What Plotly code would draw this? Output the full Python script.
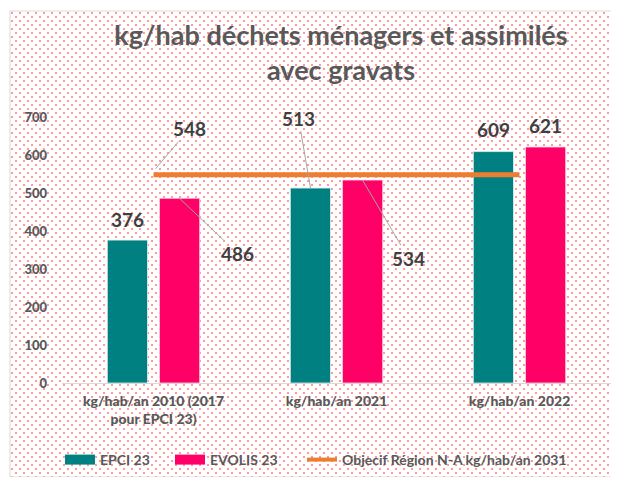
import base64
import plotly.graph_objects as go

categories = ["kg/hab/an 2010 (2017<br>pour EPCI 23)", "kg/hab/an 2021", "kg/hab/an 2022"]
epci = [376, 513, 609]
evolis = [486, 534, 621]
objectif = [548, 548, 548]
series_names = ["EPCI 23", "EVOLIS 23", "Objecif Région N-A kg/hab/an 2031"]
title_text = "kg/hab déchets ménagers et assimilés<br>avec gravats"
y_ticks = [0, 100, 200, 300, 400, 500, 600, 700]

# page has an 8px body margin: figure coords = page coords - 8
OFFS = 8
W, H = 619 - OFFS, 477 - OFFS
L, T = 62 - OFFS, 117 - OFFS
R = W - (611 - OFFS)
B = H - (383 - OFFS)
PW, PH = W - L - R, H - T - B


def px_x(px):  # page px -> paper
    return (px - OFFS - L) / PW


def px_y(py):
    return (H - B - (py - OFFS)) / PH


FONT = "Lato, Carlito, Calibri, sans-serif"
GREY = "#595959"
DARK = "#404040"
TEAL, PINK, ORANGE = "#008080", "#FF0066", "#ED7D31"

# dotted background pattern (Excel style)
bx0, by0, bx1, by1 = 10, 11, 614, 477
bw, bh = bx1 - bx0, by1 - by0
svg = (
    f'<svg xmlns="http://www.w3.org/2000/svg" width="{bw}" height="{bh}" viewBox="0 0 {bw} {bh}">'
    '<defs><pattern id="p" width="8" height="8" patternUnits="userSpaceOnUse">'
    '<rect x="1" y="1" width="2" height="2" fill="#ff9a9a"/>'
    '<rect x="5" y="5" width="2" height="2" fill="#ff9a9a"/>'
    '</pattern></defs>'
    f'<rect width="{bw}" height="{bh}" fill="white"/>'
    f'<rect width="{bw}" height="{bh}" fill="url(#p)"/></svg>'
)
src = "data:image/svg+xml;base64," + base64.b64encode(svg.encode()).decode()

fig = go.Figure()
fig.add_trace(go.Bar(x=categories, y=epci, name=series_names[0], showlegend=False,
                     marker=dict(color=TEAL, line=dict(color="#e0f0f0", width=0.8))))
fig.add_trace(go.Bar(x=categories, y=evolis, name=series_names[1], showlegend=False,
                     marker=dict(color=PINK, line=dict(color="#ffd0e0", width=0.8))))
fig.add_trace(go.Scatter(x=categories, y=objectif, name=series_names[2], mode="lines",
                         showlegend=False, line=dict(color=ORANGE, width=5)))
# legend entries (wide Excel-like swatches), one legend per entry for exact spacing
legend_ids = ["legend", "legend2", "legend3"]
for name, col, w, lg in [(series_names[0], TEAL, 10, legend_ids[0]),
                         (series_names[1], PINK, 10, legend_ids[1]),
                         (series_names[2], ORANGE, 4, legend_ids[2])]:
    fig.add_trace(go.Scatter(x=[None], y=[None], name=name, mode="lines", legend=lg,
                             line=dict(color=col, width=w)))

OFF = 26
lab_font = dict(family=FONT, size=19, color=DARK, weight="bold")
annots = []
# plain labels above bars
annots.append(dict(x=categories[0], y=epci[0], xshift=-OFF, yshift=7, text=f"{epci[0]}",
                   showarrow=False, yanchor="bottom", font=lab_font))
annots.append(dict(x=categories[2], y=epci[2], xshift=-OFF, yshift=9, text=f"{epci[2]}",
                   showarrow=False, yanchor="bottom", font=lab_font))
annots.append(dict(x=categories[2], y=evolis[2], xshift=OFF, yshift=8, text=f"{evolis[2]}",
                   showarrow=False, yanchor="bottom", font=lab_font))
# labels with leader lines
lead = dict(showarrow=True, arrowhead=0, arrowwidth=1, arrowcolor="#A6A6A6", font=lab_font)
annots.append(dict(x=categories[0], y=objectif[0], xshift=2, yshift=6, ax=34, ay=-40,
                   text=f"{objectif[0]}", **lead))
annots.append(dict(x=categories[0], y=evolis[0], xshift=OFF, ax=58, ay=55,
                   text=f"{evolis[0]}", **lead))
annots.append(dict(x=categories[1], y=epci[1], xshift=-OFF, ax=-12, ay=-70,
                   text=f"{epci[1]}", **lead))
annots.append(dict(x=categories[1], y=evolis[1], xshift=OFF, ax=46, ay=78,
                   text=f"{evolis[1]}", **lead))

ytick_font = dict(family=FONT, size=13, color=GREY, weight=900)
xtick_font = dict(family=FONT, size=14, color=GREY, weight=900)


def leg(px):
    return dict(orientation="h", x=px_x(px), y=px_y(460), xanchor="left", yanchor="middle",
                font=dict(family=FONT, size=14, color=GREY, weight="bold"),
                bgcolor="rgba(0,0,0,0)", itemwidth=30,
                itemclick=False, itemdoubleclick=False)


fig.update_layout(
    width=W, height=H,
    margin=dict(l=L, r=R, t=T, b=B, autoexpand=False),
    paper_bgcolor="white",
    plot_bgcolor="rgba(0,0,0,0)",
    barmode="group", bargap=0.43, bargroupgap=0.23,
    title=dict(text=title_text, x=(341 - OFFS) / W, xanchor="center",
               y=1 - 37 / H, yanchor="middle",
               font=dict(family=FONT, size=27, color=GREY, weight="bold")),
    font=dict(family=FONT, size=12, color=GREY),
    xaxis=dict(showgrid=False, showline=True, linecolor="#D9D9D9", linewidth=1,
               ticks="", tickfont=xtick_font, automargin=False,
               ticklabelstandoff=5),
    yaxis=dict(range=[0, 700], tickvals=y_ticks, showgrid=False, zeroline=False,
               showline=False, ticks="", tickfont=ytick_font, automargin=False,
               ticklabelstandoff=14),
    legend=leg(60),
    legend2=leg(170),
    legend3=leg(302),
    annotations=annots,
    images=[dict(source=src, xref="paper", yref="paper", x=px_x(bx0), y=px_y(by0),
                 sizex=bw / PW, sizey=bh / PH, xanchor="left", yanchor="top",
                 sizing="stretch", layer="below")],
    shapes=[dict(type="rect", xref="paper", yref="paper", x0=px_x(bx0), x1=px_x(bx1),
                 y0=px_y(by1), y1=px_y(by0), line=dict(color="#D9D9D9", width=1),
                 fillcolor="rgba(0,0,0,0)", layer="below")],
)

fig.write_html("out.html")
